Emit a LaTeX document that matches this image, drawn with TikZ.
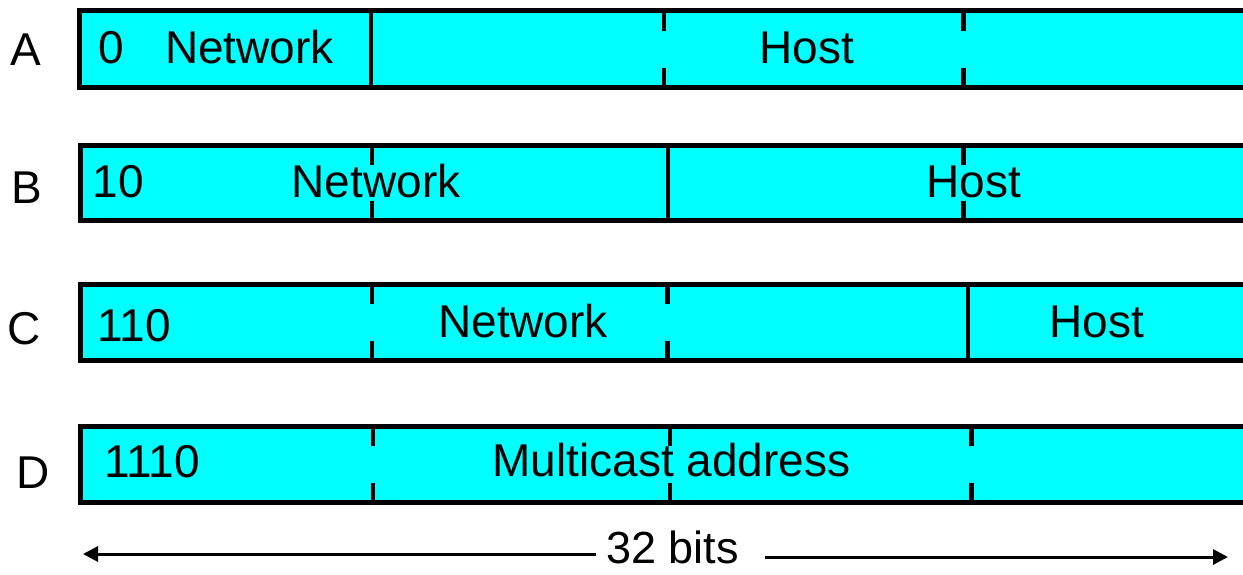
\documentclass[tikz,border=0pt]{standalone}
\usepackage{fontspec}
\setmainfont{Liberation Sans}
\usetikzlibrary{arrows.meta}
\definecolor{boxcyan}{HTML}{00FFFF}
\tikzset{
  rowbox/.style={draw=black, fill=boxcyan, line width=5pt},
  sdiv/.style={line width=4.5pt, line cap=butt},
  ddiv/.style={line width=4.5pt, line cap=butt},
  txt/.style={font=\fontsize{46}{50}\selectfont, anchor=base, inner sep=0pt},
  lbl/.style={font=\fontsize{46}{50}\selectfont, anchor=base, inner sep=0pt},
  dim/.style={line width=3pt, -{Triangle[length=15pt,width=15pt]}}
}
\newcommand{\dashdiv}[3]{%
  \draw[ddiv] (#1,#2) -- (#1,#2+20);
  \draw[ddiv] (#1,#3-20) -- (#1,#3);}
\begin{document}
\begin{tikzpicture}[x=1pt,y=-1pt]
\useasboundingbox (0,0) rectangle (1243,574);
\clip (0,0) rectangle (1243,574);
% boxes
\draw[rowbox] (79.5,10.5) rectangle (1260,87.5);
\draw[rowbox] (80.5,145) rectangle (1260,220.5);
\draw[rowbox] (80.5,284) rectangle (1260,360.5);
\draw[rowbox] (80.5,426) rectangle (1260,502.5);
% row A dividers
\draw[sdiv] (371,10.5) -- (371,87.5);
\dashdiv{664}{10.5}{87.5}
\dashdiv{963.5}{10.5}{87.5}
% row B dividers
\dashdiv{372}{145}{220.5}
\draw[sdiv] (668,145) -- (668,220.5);
\dashdiv{963.5}{145}{220.5}
% row C dividers
\dashdiv{372}{284}{360.5}
\dashdiv{667.5}{284}{360.5}
\draw[sdiv] (968,284) -- (968,360.5);
% row D dividers
\dashdiv{373}{426}{502.5}
\dashdiv{670}{426}{502.5}
\dashdiv{971.5}{426}{502.5}
% row labels
\node[lbl] (la) at (26,65) {A};
\node[lbl] (lb) at (26.5,203) {B};
\node[lbl] (lc) at (24,344) {C};
\node[lbl] (ld) at (33,488) {D};
% texts
\node[txt] (a0) at (111,63) {0};
\node[txt] (anet) at (249.5,63) {Network};
\node[txt] (ahost) at (806.5,63) {Host};
\node[txt] (b0) at (118.5,197) {10};
\node[txt] (bnet) at (376,197) {Network};
\node[txt] (bhost) at (974,197) {Host};
\node[txt] (c0) at (134,341.5) {110};
\node[txt] (cnet) at (523,337) {Network};
\node[txt] (chost) at (1096.5,337) {Host};
\node[txt] (d0) at (152,477.5) {1110};
\node[txt] (dmc) at (671.5,476) {Multicast address};
% width dimension
\node[txt, font=\fontsize{45}{50}\selectfont] (bits) at (672.5,563) {32 bits};
\coordinate (ls) at (596,554);
\coordinate (le) at (83,554);
\coordinate (rs) at (765,557);
\coordinate (re) at (1228,557);
\draw[dim] (ls) -- (le);
\draw[dim] (rs) -- (re);
\end{tikzpicture}
\end{document}
